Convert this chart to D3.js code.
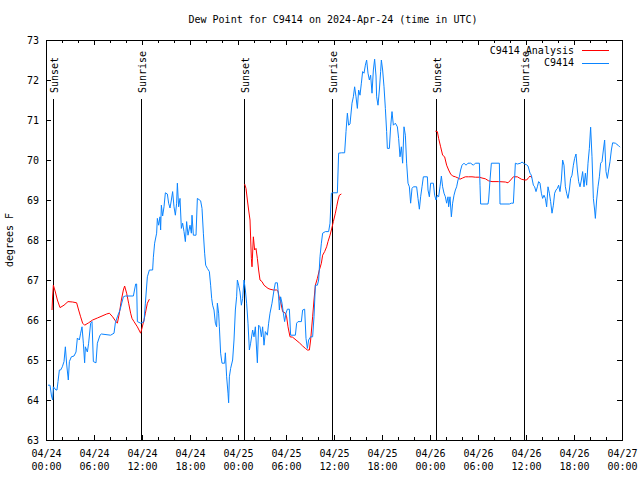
<!DOCTYPE html>
<html><head><meta charset="utf-8">
<script src="https://cdn.jsdelivr.net/npm/d3@7"></script>
<style>
body{margin:0;background:#fff;}
svg text{font-family:"DejaVu Sans Mono",monospace;font-size:10px;fill:#000;}
</style></head><body>
<svg id="chart" width="640" height="480"></svg>
<script>
// ---- data (hours since 2024-04-24 00:00 UTC, dew point in degrees F) ----
const titleText = "Dew Point for C9414 on 2024-Apr-24 (time in UTC)";
const yLabel = "degrees F";
const seriesNames = ["C9414 Analysis", "C9414"];
const yTicks = [63,64,65,66,67,68,69,70,71,72,73];

const blueHours = [0.25,0.5,0.69,0.83,0.92,1.25,1.37,1.5,1.67,1.83,2.04,2.25,2.42,2.58,2.79,2.92,3.17,3.5,3.75,3.92,4.17,4.33,4.5,4.67,4.83,4.92,5.17,5.33,5.58,5.75,5.92,6.25,6.42,6.75,6.92,8.08,8.5,8.67,8.92,9.25,9.67,9.92,10.92,11.21,11.33,11.42,11.83,12.25,12.42,12.67,12.92,13.33,13.42,13.58,13.83,13.92,14.08,14.25,14.33,14.42,14.58,14.75,14.92,15.17,15.33,15.5,15.67,15.83,16.0,16.17,16.33,16.42,16.58,16.75,16.92,17.08,17.25,17.42,17.58,17.75,18.0,18.17,18.25,18.42,18.75,18.92,19.33,19.5,19.67,19.83,19.96,20.17,20.42,20.58,20.71,20.83,21.0,21.17,21.33,21.42,21.58,21.67,21.83,22.0,22.33,22.42,22.58,22.75,22.83,22.92,23.08,23.33,23.5,23.67,23.83,23.92,24.08,24.25,24.42,24.58,24.75,24.92,25.08,25.25,25.42,25.58,25.83,26.0,26.17,26.33,26.42,26.58,26.75,26.92,27.08,27.25,27.42,27.67,27.83,28.0,28.25,28.5,28.67,28.92,29.08,29.17,29.33,29.5,29.67,29.83,30.0,30.17,30.42,30.58,31.17,31.33,31.5,31.92,32.08,32.33,32.5,32.67,32.83,33.08,33.33,33.5,33.67,33.92,34.08,34.25,34.42,34.58,34.92,35.33,35.5,35.67,35.83,36.42,36.58,36.92,37.33,37.5,37.67,37.83,38.0,38.25,38.42,38.58,38.75,38.92,39.08,39.25,39.42,39.58,39.75,39.92,40.08,40.25,40.42,40.58,40.75,40.92,41.08,41.25,41.33,41.5,41.67,41.83,41.92,42.08,42.25,42.42,42.58,42.67,42.92,43.08,43.25,43.42,43.67,43.92,44.08,44.25,44.42,44.58,44.75,44.92,45.08,45.25,45.42,45.58,45.75,45.92,46.33,46.5,46.67,46.83,47.0,47.17,47.67,47.75,47.92,48.08,48.42,48.58,48.75,48.92,49.08,49.25,49.42,49.58,49.75,49.92,50.08,50.25,50.33,50.5,50.67,50.83,51.0,51.17,51.33,51.5,51.67,51.83,52.0,52.25,52.5,52.75,53.08,53.42,53.67,54.17,54.25,54.33,55.25,55.33,55.5,55.67,56.67,56.75,57.92,58.17,58.42,58.67,58.92,59.33,59.5,59.83,60.08,60.25,60.5,60.67,60.92,61.08,61.25,61.42,61.58,61.75,61.92,62.08,62.25,62.42,62.58,62.75,62.92,63.08,63.25,63.42,63.58,63.75,63.92,64.08,64.25,64.42,64.58,64.75,64.92,65.08,65.25,65.42,65.58,65.75,65.92,66.08,66.25,66.42,66.58,66.75,66.92,67.08,67.25,67.42,67.58,67.75,67.92,68.08,68.25,68.42,68.58,68.67,68.83,69.0,69.17,69.33,69.5,69.67,69.83,70.0,70.17,70.33,70.5,70.67,70.83,71.17,71.5,71.75];
const blueDew = [64.37,64.37,64.1,64.0,64.33,64.25,64.25,64.46,64.75,64.75,64.83,64.96,65.33,64.9,64.5,64.96,65.08,65.1,65.2,65.55,65.5,65.67,65.83,65.42,64.93,65.33,65.2,65.42,65.92,65.96,64.96,64.93,65.42,65.62,65.65,65.62,65.67,65.93,66.08,66.25,66.58,66.6,66.6,66.9,66.9,65.96,65.92,65.96,66.42,67.08,67.25,67.25,67.57,67.92,68.17,68.54,68.37,68.58,68.25,68.87,68.6,68.83,69.18,69.15,68.92,68.8,69.0,69.21,68.83,68.62,68.92,69.42,68.83,69.04,68.29,68.42,68.21,67.96,68.46,68.12,68.37,68.17,68.62,68.12,68.12,69.04,68.98,68.79,68.17,67.67,67.37,67.29,67.21,66.87,66.54,66.37,66.25,65.92,65.83,66.42,66.17,65.83,65.17,64.92,64.92,65.18,64.58,64.17,63.93,64.58,64.79,65.0,65.5,66.25,66.58,67.0,66.87,66.7,66.37,66.54,67.0,66.75,66.42,65.92,65.25,65.42,65.75,65.58,65.83,65.25,64.93,65.87,65.83,65.58,65.83,65.37,65.71,65.62,65.92,66.17,66.42,66.75,66.93,66.93,66.58,66.25,66.58,66.42,66.17,65.96,66.17,66.27,66.27,65.62,65.62,65.92,65.96,65.96,66.25,66.27,65.54,65.29,65.5,65.58,65.58,66.08,66.87,66.87,67.0,67.58,67.92,68.17,68.21,68.21,68.42,69.17,69.18,69.18,70.17,70.18,70.18,70.71,71.17,70.87,70.9,71.42,71.58,71.83,71.58,71.29,71.75,71.62,71.92,72.21,72.17,72.37,72.5,72.17,72.0,72.12,71.67,72.25,72.52,72.1,71.58,71.37,71.75,72.21,72.5,72.25,71.83,71.29,70.71,70.29,70.29,70.83,71.21,70.87,70.92,70.83,70.54,70.08,70.33,69.92,70.83,70.62,69.92,69.42,69.33,68.92,69.29,69.33,69.33,69.04,68.77,69.08,69.33,69.58,69.58,69.25,69.08,69.42,69.42,69.12,69.0,69.12,69.08,69.33,69.6,69.33,69.17,69.08,68.92,69.08,68.83,69.08,68.58,68.92,69.12,69.25,69.33,69.5,69.58,69.75,69.87,69.92,69.87,69.92,69.92,69.87,69.92,69.92,69.37,68.9,68.9,69.0,69.5,69.92,69.92,68.9,68.9,68.92,68.92,69.92,69.9,69.92,69.95,69.9,69.88,69.85,69.67,69.62,69.37,69.33,69.21,69.33,69.46,69.42,69.17,69.04,69.12,69.04,68.83,69.33,69.17,68.96,68.67,68.87,69.17,69.25,69.29,69.37,69.21,69.5,70.0,69.87,69.33,69.17,69.04,69.25,69.54,69.62,69.87,70.04,70.15,69.75,69.46,69.33,69.5,69.71,69.33,69.67,69.37,69.92,70.29,70.82,70.08,69.04,68.75,68.54,69.0,69.33,69.58,69.92,69.96,70.25,70.5,69.71,69.54,69.75,69.96,70.25,70.43,70.42,70.37,70.32];

// analysis series; null marks a gap between the three runs
const analysisHours = [0.75,0.83,0.92,1.17,1.42,1.75,2.25,2.75,3.33,3.83,4.08,4.33,4.58,4.83,5.33,5.83,6.42,7.0,7.58,7.92,8.33,8.67,8.92,9.17,9.42,9.67,9.83,10.08,10.33,10.58,10.75,11.0,11.42,11.83,12.0,12.25,12.42,12.67,12.92,
  13.0,
  24.83,25.0,25.17,25.33,25.5,25.67,25.75,25.92,26.08,26.25,26.42,26.58,26.75,27.0,27.25,27.5,27.75,28.0,28.42,28.83,29.0,29.17,29.33,29.58,29.92,30.08,30.25,30.5,30.83,31.25,31.67,32.08,32.42,32.67,32.92,33.08,33.33,33.5,33.67,33.92,34.17,34.42,34.58,34.83,35.08,35.25,35.5,35.67,35.92,36.17,36.33,36.5,36.67,36.92,
  37.0,
  48.67,48.92,49.08,49.33,49.58,49.83,50.08,50.33,50.58,50.83,51.17,51.5,51.75,52.08,52.42,52.83,53.25,53.67,54.17,54.5,54.92,55.33,55.75,56.58,57.42,57.75,58.08,58.42,58.92,59.42,59.83,60.08,60.33,60.5,60.75];
const analysisDew = [66.25,66.6,66.87,66.7,66.5,66.31,66.37,66.46,66.45,66.43,66.25,66.08,65.92,65.87,65.93,66.0,66.05,66.1,66.15,66.17,66.08,65.98,65.92,66.17,66.5,66.75,66.85,66.67,66.42,66.17,66.04,65.96,65.83,65.67,65.8,66.0,66.17,66.42,66.52,
  null,
  69.4,69.29,69.0,68.75,68.5,67.54,67.33,68.08,67.75,67.79,67.54,67.25,67.0,66.96,66.87,66.83,66.79,66.77,66.75,66.75,66.72,66.54,66.46,66.21,66.17,66.08,65.83,65.58,65.57,65.5,65.43,65.35,65.29,65.25,65.25,65.5,66.08,66.5,66.87,67.04,67.25,67.42,67.62,67.71,67.83,67.96,68.12,68.25,68.46,68.67,68.83,69.0,69.12,69.15,
  null,
  70.72,70.71,70.54,70.33,70.12,70.08,69.87,69.75,69.65,69.6,69.58,69.55,69.52,69.55,69.58,69.58,69.58,69.57,69.57,69.55,69.53,69.48,69.46,69.46,69.45,69.43,69.5,69.58,69.58,69.52,69.5,69.5,69.56,69.6,69.56];

const sunHours = [0.91, 11.91, 24.79, 35.79, 48.79, 59.79];
const sunLabels = ["Sunset","Sunrise","Sunset","Sunrise","Sunset","Sunrise"];

// ---- chart ----
const t0 = Date.UTC(2024, 3, 24);
const toDate = h => new Date(t0 + h * 3600000);
const L = 46, R = 622, T = 40, B = 440;
const x = d3.scaleUtc().domain([toDate(0), toDate(72)]).range([L, R]);
const y = d3.scaleLinear().domain([63, 73]).range([B, T]);
const svg = d3.select("#chart");
svg.append("rect").attr("width", 640).attr("height", 480).attr("fill", "#fff");

const majorX = d3.utcHour.every(6).range(toDate(0), toDate(72.01));
const minorX = d3.utcHour.every(2).range(toDate(0), toDate(72.01)).filter(d => d.getUTCHours() % 6 !== 0);
const fmtD = d3.utcFormat("%m/%d"), fmtT = d3.utcFormat("%H:%M");

function clean(g){ g.select(".domain").remove(); g.attr("font-family", null).attr("font-size", null); g.selectAll("line").attr("shape-rendering","crispEdges"); }

const gx = svg.append("g").attr("transform", `translate(0,${B})`)
  .call(d3.axisBottom(x).tickValues(majorX).tickSize(-5).tickSizeOuter(0).tickFormat(fmtD)).call(clean);
gx.selectAll(".tick text").each(function(d){
  const t = d3.select(this); t.text(null).attr("dy", null).attr("y", null);
  t.append("tspan").attr("x", 0).attr("y", 17).text(fmtD(d));
  t.append("tspan").attr("x", 0).attr("y", 30).text(fmtT(d));
});
svg.append("g").attr("transform", `translate(0,${B})`)
  .call(d3.axisBottom(x).tickValues(minorX).tickSize(-3).tickSizeOuter(0).tickFormat("")).call(clean);
svg.append("g").attr("transform", `translate(0,${T})`)
  .call(d3.axisTop(x).tickValues(majorX).tickSize(-5).tickSizeOuter(0).tickFormat("")).call(clean);
svg.append("g").attr("transform", `translate(0,${T})`)
  .call(d3.axisTop(x).tickValues(minorX).tickSize(-3).tickSizeOuter(0).tickFormat("")).call(clean);
svg.append("g").attr("transform", `translate(${L},0)`)
  .call(d3.axisLeft(y).tickValues(yTicks).tickSize(-5).tickSizeOuter(0).tickPadding(7).tickFormat(d3.format("d"))).call(clean);
svg.append("g").attr("transform", `translate(${R},0)`)
  .call(d3.axisRight(y).tickValues(yTicks).tickSize(-5).tickSizeOuter(0).tickFormat("")).call(clean);

svg.append("rect").attr("x", L).attr("y", T).attr("width", R - L).attr("height", B - T)
  .attr("fill", "none").attr("stroke", "#000").attr("shape-rendering", "crispEdges");

// sunrise / sunset markers
const sun = svg.append("g");
sunHours.forEach((h, i) => {
  const sx = Math.round(x(toDate(h))) + 0.5;
  sun.append("line").attr("x1", sx).attr("x2", sx).attr("y1", 99).attr("y2", B)
    .attr("stroke", "#000").attr("shape-rendering", "crispEdges");
  sun.append("text").attr("transform", `translate(${sx + 4},93) rotate(-90)`)
    .attr("text-anchor", "start").text(sunLabels[i]);
});

// data lines
const blueData = blueHours.map((h, i) => ({t: toDate(h), v: blueDew[i]}));
const redData = analysisHours.map((h, i) => ({t: toDate(h), v: analysisDew[i]}));
const line = d3.line().defined(d => d.v != null).x(d => x(d.t)).y(d => y(d.v));
svg.append("path").datum(redData).attr("d", line).attr("fill", "none").attr("stroke", "#ff0000").attr("stroke-width", 1);
svg.append("path").datum(blueData).attr("d", line).attr("fill", "none").attr("stroke", "#0a84ff").attr("stroke-width", 1);

// title and y label
svg.append("text").attr("x", 333).attr("y", 23).attr("text-anchor", "middle").text(titleText);
svg.append("text").attr("transform", "translate(13,240) rotate(-90)").attr("text-anchor", "middle").text(yLabel);

// legend
const legColors = ["#ff0000", "#0a84ff"];
seriesNames.forEach((n, i) => {
  const ly = 50 + i * 12.5;
  svg.append("text").attr("x", 574).attr("y", ly + 3.5).attr("text-anchor", "end").text(n);
  svg.append("line").attr("x1", 582).attr("x2", 609).attr("y1", Math.round(ly) + 0.5).attr("y2", Math.round(ly) + 0.5)
    .attr("stroke", legColors[i]).attr("shape-rendering", "crispEdges");
});
</script>
</body></html>
